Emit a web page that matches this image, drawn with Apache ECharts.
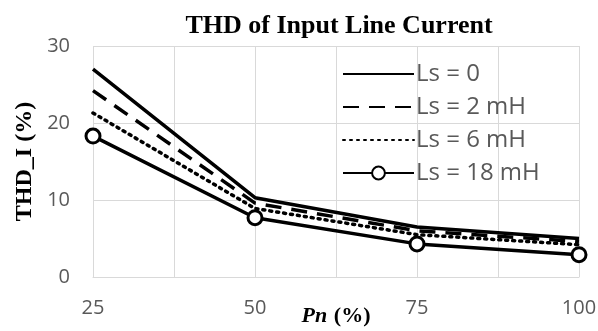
<!DOCTYPE html>
<html>
<head>
<meta charset="utf-8">
<script src="https://cdn.jsdelivr.net/npm/echarts@6/dist/echarts.min.js"></script>
<style>
  html, body { margin: 0; padding: 0; background: #fff; }
  #chart { width: 598px; height: 331px; }
</style>
</head>
<body>
<div id="chart"></div>
<script>
const pn = [25, 50, 75, 100];
const ls0 = [27.0, 10.3, 6.5, 5.0];
const ls2 = [24.2, 9.6, 6.0, 4.6];
const ls6 = [21.3, 8.9, 5.5, 4.2];
const ls18 = [18.3, 7.7, 4.3, 2.9];
const seriesNames = ["Ls = 0", "Ls = 2 mH", "Ls = 6 mH", "Ls = 18 mH"];

const chart = echarts.init(document.getElementById("chart"));
const pair = vals => pn.map((x, i) => [x, vals[i]]);

const option = {
  animation: false,
  title: {
    text: "THD of Input Line Current",
    left: 334,
    textAlign: "center",
    top: 8,
    textStyle: { fontFamily: "Liberation Serif", fontWeight: "bold", fontSize: 26, color: "#000" }
  },
  legend: {
    orient: "vertical",
    left: 337,
    top: 57,
    itemWidth: 71,
    itemHeight: 16,
    itemGap: 9,
    textStyle: { fontFamily: "Open Sans", fontSize: 24, color: "#595959", padding: [0, 0, 0, -3] },
    data: [
      { name: seriesNames[0], itemStyle: { opacity: 0 } },
      { name: seriesNames[1], itemStyle: { opacity: 0 } },
      { name: seriesNames[2], itemStyle: { opacity: 0 } },
      { name: seriesNames[3] }
    ]
  },
  grid: { left: 93, right: 19, top: 46, bottom: 54, outerBoundsMode: "none" },
  xAxis: {
    type: "value",
    min: 25,
    max: 100,
    interval: 12.5,
    name: "{b|Pn}  {c|(%)}",
    nameLocation: "middle",
    nameGap: 28,
    nameMoveOverlap: false,
    nameTextStyle: {
      rich: {
        b: { fontFamily: "Liberation Serif", fontWeight: "bold", fontStyle: "italic", fontSize: 22, color: "#000" },
        c: { fontFamily: "Liberation Serif", fontWeight: "bold", fontSize: 22, color: "#000" }
      }
    },
    axisLine: { show: true, lineStyle: { color: "#d9d9d9", width: 1 } },
    axisTick: { show: false },
    splitLine: { show: true, lineStyle: { color: "#d9d9d9", width: 1 } },
    axisLabel: {
      margin: 21,
      fontFamily: "Open Sans",
      fontSize: 20,
      color: "#595959",
      formatter: v => (v % 25 === 0 ? String(v) : "")
    }
  },
  yAxis: {
    type: "value",
    min: 0,
    max: 30,
    interval: 10,
    name: "THD_I (%)",
    nameLocation: "middle",
    nameGap: 56,
    nameMoveOverlap: false,
    nameTextStyle: { fontFamily: "Liberation Serif", fontWeight: "bold", fontSize: 24, color: "#000" },
    axisLine: { show: false },
    axisTick: { show: false },
    splitLine: { show: true, lineStyle: { color: "#d9d9d9", width: 1 } },
    axisLabel: { margin: 23, fontFamily: "Open Sans", fontSize: 20, color: "#595959" }
  },
  series: [
    {
      name: seriesNames[0], type: "line", data: pair(ls0),
      symbol: "none", lineStyle: { color: "#000", width: 3.5 }, itemStyle: { color: "#000" }
    },
    {
      name: seriesNames[1], type: "line", data: pair(ls2),
      symbol: "none", lineStyle: { color: "#000", width: 3.5, type: [16, 10] }, itemStyle: { color: "#000" }
    },
    {
      name: seriesNames[2], type: "line", data: pair(ls6),
      symbol: "none", lineStyle: { color: "#000", width: 3.5, type: [2, 5], cap: "round" }, itemStyle: { color: "#000" }
    },
    {
      name: seriesNames[3], type: "line", data: pair(ls18),
      symbol: "circle", symbolSize: 14,
      lineStyle: { color: "#000", width: 3.5 },
      itemStyle: { color: "#fff", borderColor: "#000", borderWidth: 3 }
    }
  ]
};
chart.setOption(option);
</script>
</body>
</html>
